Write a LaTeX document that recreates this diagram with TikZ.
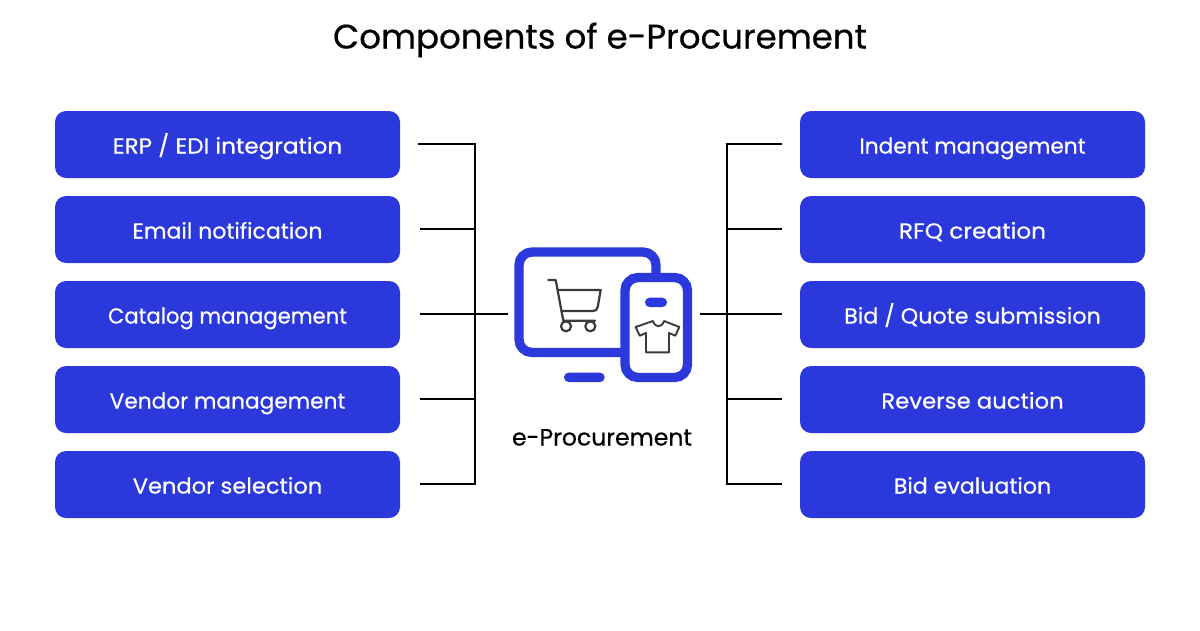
\documentclass[tikz,border=0pt]{standalone}
\usepackage{graphicx}
\usepackage{fontspec}
\setmainfont{Poppins}
\newfontfamily\medfont{Poppins}[RawFeature={embolden=0.5}]
\definecolor{brandblue}{HTML}{2A38DC}
\definecolor{icondark}{HTML}{3A3A38}
\tikzset{
  x=1pt,y=-1pt,
  itembox/.style={fill=brandblue,rounded corners=11pt,minimum width=345pt,minimum height=67pt,inner sep=0pt,text=white,text height=18pt,text depth=0pt,font=\medfont\fontsize{21.7}{24}\selectfont},
  wire/.style={draw=black,line width=2pt},
  iconline/.style={draw=brandblue,line width=9.3pt},
  pill/.style={fill=brandblue,rounded corners=4.6pt},
  thinicon/.style={draw=icondark,line width=2.2pt,line cap=round,line join=round},
}
\begin{document}
\begin{tikzpicture}
\useasboundingbox (0,0) rectangle (1200,630);
\fill[white] (0,0) rectangle (1200,630);
\node[font=\medfont\fontsize{34}{38}\selectfont,text height=25pt,text depth=0pt,inner sep=0pt] (title) at (600,36) {Components of e-Procurement};
\foreach \n/\y/\s/\t in {l1/144.5/1.065/{ERP / EDI integration},l2/229.5/1.016/{Email notification},l3/314.5/.975/{Catalog management},l4/399.5/1/{Vendor management},l5/484.5/1.04/{Vendor selection}}
  \node[itembox] (\n) at (227.5,\y) {\scalebox{\s}[1]{\t}};
\foreach \n/\y/\s/\t in {r1/144.5/1/{Indent management},r2/229.5/1.07/{RFQ creation},r3/314.5/1.024/{Bid / Quote submission},r4/399.5/1.05/{Reverse auction},r5/484.5/1.02/{Bid evaluation}}
  \node[itembox] (\n) at (972.5,\y) {\scalebox{\s}[1]{\t}};
% icon
\draw[iconline,rounded corners=13pt] (519,252) rectangle (656,352.5);
\draw[iconline,fill=white,rounded corners=13pt] (625,277.5) rectangle (687.5,377.5);
\fill[pill] (564,372.7) rectangle (604.7,382);
\fill[pill] (645,297.7) rectangle (667,307);
\draw[thinicon] (548.3,280) -- (555.7,280) -- (563.3,320.7) -- (595,320.7);
\draw[thinicon] (557.7,290) -- (600.7,290) -- (597.8,306.5) .. controls (597.4,309.5) and (596,311) .. (593,311) -- (561.6,311);
\draw[thinicon] (566,326.3) circle (5pt) (590.3,326.3) circle (5pt);
\draw[thinicon,line width=1.9pt] (653,321) .. controls (655,328) and (662,328) .. (664,321) -- (679.3,327) -- (675.3,335.7) -- (669,333) -- (669,352.3) -- (646,352.3) -- (646,333) -- (639.7,335.7) -- (635.7,327) -- cycle;
\node[font=\medfont\fontsize{23.5}{28}\selectfont,text height=17pt,text depth=0pt,inner sep=0pt] (lbl) at (602,437) {e-Procurement};
% connector anchors
\coordinate (lbus1) at (475,144);
\coordinate (lbus5) at (475,484);
\coordinate (rbus1) at (727,144);
\coordinate (rbus5) at (727,484);
\coordinate (lhub) at (508,314);
\coordinate (rhub) at (700,314);
\coordinate (la1) at (418,144);
\foreach \i/\y in {2/229,3/314,4/399,5/484} \coordinate (la\i) at (420,\y);
\foreach \i/\y in {1/144,2/229,3/314,4/399,5/484} {\coordinate (ra\i) at (782,\y);\coordinate (rb\i) at (727,\y);\coordinate (lb\i) at (475,\y);}
\draw[wire,line join=miter] (la1) -- (lbus1) -- (lbus5) -- (la5);
\foreach \i in {2,4} \draw[wire] (la\i) -- (lb\i);
\draw[wire] (la3) -- (lhub);
\draw[wire,line join=miter] (ra1) -- (rbus1) -- (rbus5) -- (ra5);
\foreach \i in {2,4} \draw[wire] (rb\i) -- (ra\i);
\draw[wire] (rhub) -- (ra3);
\end{tikzpicture}
\end{document}
